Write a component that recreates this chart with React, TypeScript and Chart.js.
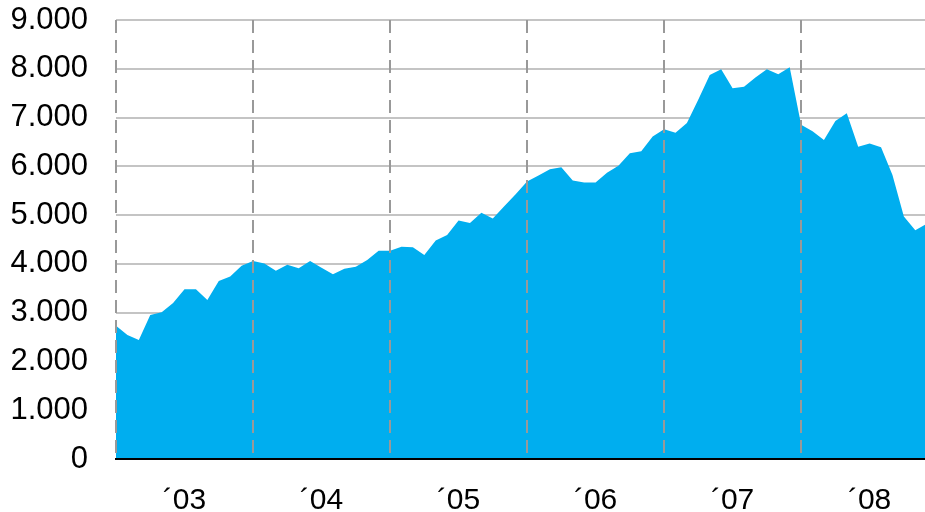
import { useEffect, useRef } from "react";
import { Chart, registerables } from "chart.js";

Chart.register(...registerables);

// Monthly values, Jan 2003 – Dec 2008
const values2003 = [2730, 2540, 2440, 2950, 3010, 3200, 3480, 3480, 3260, 3650, 3740, 3960];
const values2004 = [4060, 4010, 3860, 3980, 3910, 4060, 3920, 3790, 3900, 3940, 4080, 4270];
const values2005 = [4270, 4350, 4340, 4180, 4480, 4590, 4890, 4840, 5050, 4930, 5180, 5430];
const values2006 = [5690, 5810, 5940, 5980, 5710, 5670, 5670, 5870, 6010, 6270, 6310, 6610];
const values2007 = [6760, 6690, 6890, 7370, 7870, 7990, 7600, 7630, 7820, 7990, 7890, 8030];
const values2008 = [6850, 6720, 6540, 6930, 7090, 6400, 6470, 6390, 5820, 4970, 4690, 4820];

const yearLabels = ["´03", "´04", "´05", "´06", "´07", "´08"];
const yTickValues = [0, 1000, 2000, 3000, 4000, 5000, 6000, 7000, 8000, 9000];

const allValues = [...values2003, ...values2004, ...values2005, ...values2006, ...values2007, ...values2008];

const fmt = (v: number) => String(Math.round(v)).replace(/\B(?=(\d{3})+(?!\d))/g, ".");

export default function App() {
  const ref = useRef<HTMLCanvasElement>(null);
  useEffect(() => {
    document.body.style.margin = "0";
    const canvas = ref.current!;
    const points = allValues.map((v, i) => ({ x: i, y: v }));
    const yearStarts = yearLabels.map((_, k) => k * 12);
    const yearMids = yearLabels.map((_, k) => k * 12 + 6);
    const font = { family: "'Liberation Sans', Arial, sans-serif", size: 31 };
    const chart = new Chart(canvas, {
      type: "line",
      data: {
        datasets: [
          {
            data: points,
            fill: "origin",
            backgroundColor: "#00AEEF",
            borderWidth: 0,
            pointRadius: 0,
            tension: 0,
          },
        ],
      },
      options: {
        animation: false,
        responsive: true,
        maintainAspectRatio: false,
        layout: { padding: { top: 20, left: 0, right: 0, bottom: 0 } },
        plugins: { legend: { display: false }, tooltip: { enabled: false } },
        scales: {
          x: {
            type: "linear",
            min: 0,
            max: 70.85,
            afterBuildTicks: (axis: any) => {
              axis.ticks = [...yearStarts, ...yearMids]
                .sort((a, b) => a - b)
                .map((v) => ({ value: v }));
            },
            afterFit: (axis: any) => {
              axis.height = 53;
              axis.paddingLeft = 0;
              axis.paddingRight = 0;
            },
            ticks: {
              autoSkip: false,
              maxRotation: 0,
              padding: 24,
              color: "#000",
              font: { ...font, size: 30 },
              callback: (v: any) => {
                const idx = yearMids.indexOf(Number(v));
                return idx >= 0 ? yearLabels[idx] : "";
              },
            },
            grid: {
              drawTicks: false,
              z: 1,
              lineWidth: (ctx: any) => (ctx.tick && ctx.tick.value % 12 === 0 ? 2 : 0),
              color: "#999999",
            },
            border: { display: true, color: "#000", width: 2, z: 2, dash: [13, 7] },
          },
          y: {
            min: 0,
            max: 9000,
            afterBuildTicks: (axis: any) => {
              axis.ticks = yTickValues.map((v) => ({ value: v }));
            },
            afterFit: (axis: any) => {
              axis.width = 116;
              axis.paddingTop = 0;
              axis.paddingBottom = 0;
            },
            ticks: {
              padding: 28,
              color: "#000",
              font,
              callback: (v: any) => fmt(Number(v)),
            },
            grid: { drawTicks: false, color: "#c4c4c4", lineWidth: 2 },
            border: { display: false },
          },
        },
      },
    } as any);
    return () => chart.destroy();
  }, []);
  return (
    <div style={{ position: "relative", width: 925, height: 512 }}>
      <canvas ref={ref} />
    </div>
  );
}
